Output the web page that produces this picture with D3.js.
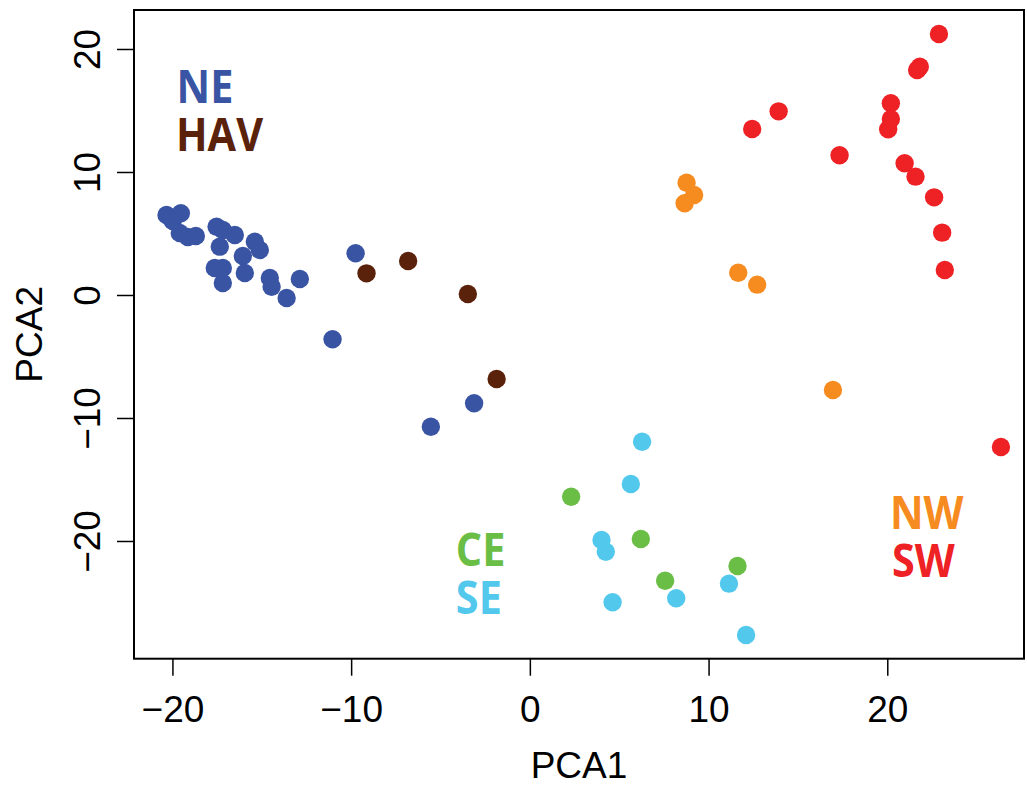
<!DOCTYPE html>
<html>
<head>
<meta charset="utf-8">
<script src="https://cdn.jsdelivr.net/npm/d3@7"></script>
<style>
  body { margin: 0; background: #fff; }
  svg { display: block; }
  .tick text, .axis-label { font-family: "Liberation Sans", Arial, sans-serif; fill: #000; }
  .group-label { font-family: "Open Sans", sans-serif; font-weight: 700; }
</style>
</head>
<body>
<div id="chart"></div>
<script>
// PCA scores, one array of [PCA1, PCA2] per region
const ne = [
  [-20.33, 6.50], [-19.53, 6.64], [-19.98, 6.02], [-19.59, 5.04], [-19.14, 4.72],
  [-18.69, 4.80], [-17.53, 5.55], [-17.18, 5.28], [-16.51, 4.88], [-17.35, 3.93],
  [-16.06, 3.17], [-15.39, 4.33], [-15.11, 3.66], [-15.95, 1.79], [-17.63, 2.20],
  [-17.18, 2.20], [-17.18, 0.98], [-14.55, 1.38], [-14.45, 0.67], [-13.61, -0.24],
  [-12.87, 1.30], [-9.75, 3.39], [-11.04, -3.60], [-3.12, -8.80], [-5.54, -10.71]
];
const hav = [[-9.14, 1.76], [-6.81, 2.76], [-3.47, 0.08], [-1.86, -6.83]];
const ce = [[2.31, -16.40], [6.21, -19.84], [7.57, -23.23], [11.62, -22.03]];
const se = [
  [6.28, -11.93], [5.65, -15.37], [4.01, -19.92], [4.25, -20.87],
  [4.63, -24.98], [8.19, -24.66], [11.14, -23.47], [12.10, -27.64]
];
const nw = [[8.77, 9.13], [9.19, 8.13], [8.66, 7.46], [11.66, 1.81], [12.72, 0.84], [16.96, -7.72]];
const sw = [
  [22.89, 21.22], [21.82, 18.56], [21.67, 18.29], [20.20, 15.59], [20.20, 14.31],
  [20.05, 13.47], [13.92, 14.93], [12.44, 13.50], [17.33, 11.36], [20.97, 10.71],
  [21.58, 9.62], [22.62, 7.94], [23.07, 5.07], [23.22, 2.03], [26.36, -12.36]
];

const groupNames = ["NE", "HAV", "CE", "SE", "NW", "SW"];
const groupPoints = [ne, hav, ce, se, nw, sw];
const xTicks = [-20, -10, 0, 10, 20];
const yTicks = [-20, -10, 0, 10, 20];

// names are printed in pairs, one block per corner
const labelPairs = [["NE", "HAV"], ["CE", "SE"], ["NW", "SW"]];

const colors = {
  NE: "#3a54a4", HAV: "#5b220b", CE: "#6abd45",
  SE: "#52c8ed", NW: "#f68b1f", SW: "#ee2125"
};

// where the group names sit, in data units (left edge, baseline)
const labelPos = {
  NE: [-19.77, 15.6], HAV: [-19.8, 11.7],
  CE: [-4.14, -22.0], SE: [-4.14, -25.9],
  NW: [20.15, -19.0], SW: [20.26, -22.9]
};

const width = 1027, height = 787;
const box = { left: 134, right: 1024, top: 10, bottom: 658.7 };
const squeeze = 0.88; // the name font is narrower than Open Sans

const svg = d3.select("#chart").append("svg")
  .attr("width", width)
  .attr("height", height);

const x = d3.scaleLinear().domain([-22.15, 27.65]).range([box.left, box.right]);
const y = d3.scaleLinear().domain([-29.57, 23.17]).range([box.bottom, box.top]);

// points
groupNames.forEach((name, i) => {
  svg.append("g").selectAll("circle")
    .data(groupPoints[i])
    .enter().append("circle")
      .attr("cx", d => x(d[0]))
      .attr("cy", d => y(d[1]))
      .attr("r", 9.2)
      .attr("fill", colors[name]);
});

// plot frame
svg.append("rect")
  .attr("x", box.left)
  .attr("y", box.top)
  .attr("width", box.right - box.left)
  .attr("height", box.bottom - box.top)
  .attr("fill", "none")
  .attr("stroke", "#000")
  .attr("stroke-width", 2);

// x axis
const xAxis = svg.append("g")
  .attr("transform", "translate(0," + box.bottom + ")")
  .call(d3.axisBottom(x).tickValues(xTicks).tickSize(17).tickSizeOuter(0));
xAxis.select(".domain").remove();
xAxis.selectAll(".tick line").attr("stroke", "#000").attr("stroke-width", 1.5);
xAxis.selectAll(".tick text")
  .attr("y", 63)
  .attr("dy", 0)
  .style("font-size", "37px");

// y axis, labels turned to run along the axis
const yAxis = svg.append("g")
  .attr("transform", "translate(" + box.left + ",0)")
  .call(d3.axisLeft(y).tickValues(yTicks).tickSize(17).tickSizeOuter(0));
yAxis.select(".domain").remove();
yAxis.selectAll(".tick line").attr("stroke", "#000").attr("stroke-width", 1.5);
yAxis.selectAll(".tick text")
  .attr("x", 0)
  .attr("dy", 0)
  .attr("text-anchor", "middle")
  .attr("transform", "translate(-34,0) rotate(-90)")
  .style("font-size", "37px");

// axis titles
svg.append("text")
  .attr("class", "axis-label")
  .attr("x", (box.left + box.right) / 2)
  .attr("y", 778)
  .attr("text-anchor", "middle")
  .style("font-size", "37px")
  .text("PCA1");

svg.append("text")
  .attr("class", "axis-label")
  .attr("text-anchor", "middle")
  .attr("transform", "translate(42," + (box.top + box.bottom) / 2 + ") rotate(-90)")
  .style("font-size", "37px")
  .text("PCA2");

// group names, two lines in one text block
labelPairs.forEach(pair => {
  const t = svg.append("text")
    .attr("class", "group-label")
    .attr("transform", "scale(" + squeeze + ",1)")
    .style("font-size", "47px");
  pair.forEach(name => {
    t.append("tspan")
      .attr("x", x(labelPos[name][0]) / squeeze)
      .attr("y", y(labelPos[name][1]))
      .attr("fill", colors[name])
      .text(name);
  });
});
</script>
</body>
</html>
